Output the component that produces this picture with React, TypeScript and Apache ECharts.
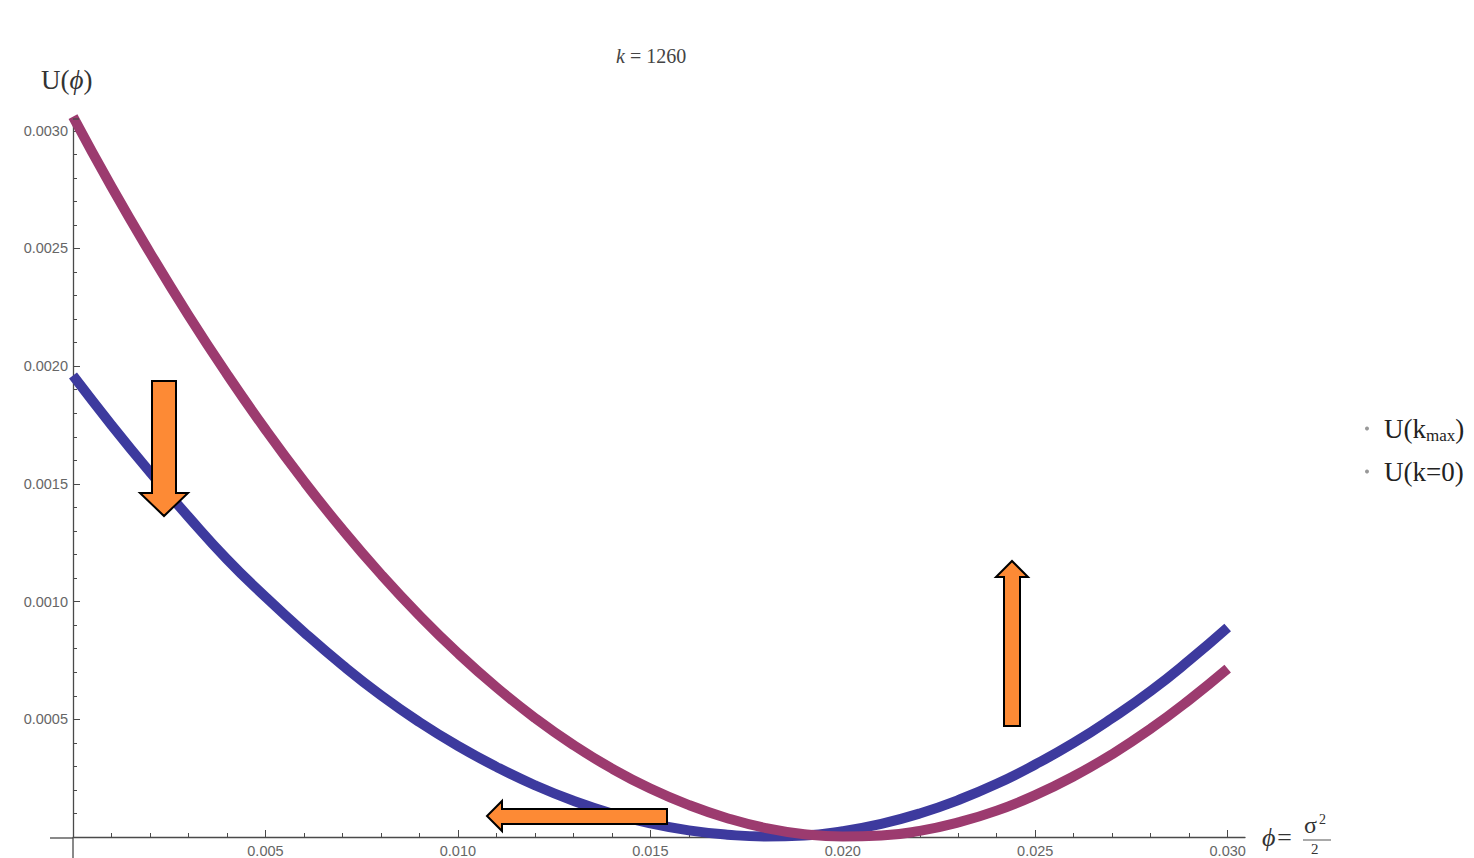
import React, { useEffect, useRef } from "react";
import * as echarts from "echarts";

// phi values (x)
const phi = [
  0.0, 0.001, 0.002, 0.003, 0.004, 0.005, 0.006, 0.007, 0.008, 0.009, 0.01,
  0.011, 0.012, 0.013, 0.014, 0.015, 0.016, 0.017, 0.018, 0.019, 0.02,
  0.021, 0.022, 0.023, 0.024, 0.025, 0.026, 0.027, 0.028, 0.029, 0.03,
];
// U(k_max) — blue curve
const uKmax = [
  0.00196, 0.00175, 0.00155, 0.00136, 0.00118, 0.00102, 0.00087, 0.00073,
  0.000602, 0.000488, 0.000387, 0.000298, 0.00022, 0.000154, 0.0001,
  0.000058, 0.000028, 0.00001, 0.000002, 0.000006, 0.000025, 0.000056,
  0.0001, 0.000157, 0.000226, 0.000308, 0.0004, 0.000505, 0.00062, 0.00075,
  0.00089,
];
// U(k=0) — purple curve
const uK0 = [
  0.00306, 0.002762, 0.002482, 0.002216, 0.001966, 0.001731, 0.001511,
  0.001306, 0.001116, 0.000941, 0.000781, 0.000636, 0.000506, 0.000391,
  0.000291, 0.000206, 0.000136, 0.00008, 0.000038, 0.000012, 0.000002,
  0.000006, 0.000026, 0.000062, 0.000112, 0.000178, 0.000258, 0.000352,
  0.00046, 0.000582, 0.000715,
];

const seriesNames = ["U(kmax)", "U(k=0)"];

const xMajorTicks = [0.005, 0.01, 0.015, 0.02, 0.025, 0.03];
const xMinorTicks = [
  0.001, 0.002, 0.003, 0.004, 0.006, 0.007, 0.008, 0.009, 0.011, 0.012,
  0.013, 0.014, 0.016, 0.017, 0.018, 0.019, 0.021, 0.022, 0.023, 0.024,
  0.026, 0.027, 0.028, 0.029,
];
const yMajorTicks = [0.0005, 0.001, 0.0015, 0.002, 0.0025, 0.003];
const yMinorTicks = [
  0.0001, 0.0002, 0.0003, 0.0004, 0.0006, 0.0007, 0.0008, 0.0009, 0.0011,
  0.0012, 0.0013, 0.0014, 0.0016, 0.0017, 0.0018, 0.0019, 0.0021, 0.0022,
  0.0023, 0.0024, 0.0026, 0.0027, 0.0028, 0.0029,
];

export default function App() {
  const ref = useRef<HTMLDivElement>(null);

  useEffect(() => {
    if (!ref.current) return;
    const chart = echarts.init(ref.current, undefined, { renderer: "svg" });

    const axisColor = "#4a4a4a";
    const labelStyle = {
      color: "#666",
      fontSize: 14.5,
      fontFamily: "Liberation Sans, Arial, sans-serif",
    };
    const serif = "Liberation Serif, Times New Roman, serif";
    const orange = "#fd8a35";

    const xMin = 0;
    const xMax = 0.03045;
    const yMin = 0;
    const yMax = 0.00305;

    const option: any = {
      animation: false,
      backgroundColor: "#ffffff",
      title: {
        text: "{i|k} = 1260",
        left: 611,
        top: 41,
        textStyle: {
          fontFamily: serif,
          fontSize: 20,
          fontWeight: "normal",
          color: "#444",
          rich: {
            i: { fontFamily: serif, fontSize: 20, fontStyle: "italic", color: "#444" },
          },
        },
      },
      legend: {
        orient: "vertical",
        left: 1360,
        top: 410,
        itemGap: 14,
        icon: "circle",
        itemWidth: 4,
        itemHeight: 4,
        data: seriesNames.map((n) => ({ name: n, itemStyle: { color: "#999" } })),
        formatter: (n: string) => (n === "U(kmax)" ? "U(k{s|max})" : n),
        textStyle: {
          fontFamily: serif,
          fontSize: 27,
          color: "#222",
          padding: [0, 0, 0, 10],
          rich: {
            s: { fontFamily: serif, fontSize: 17, color: "#222", padding: [14, 0, 0, 0] },
          },
        },
      },
      grid: { left: 73, right: 1474 - 1245, top: 119, bottom: 858 - 838, containLabel: false },
      xAxis: [
        {
          type: "value",
          min: xMin,
          max: xMax,
          axisLine: { show: true, onZero: false, lineStyle: { color: axisColor, width: 1.3 } },
          axisTick: { show: true, inside: true, length: 7, customValues: xMajorTicks, lineStyle: { color: axisColor } },
          axisLabel: {
            ...labelStyle,
            customValues: xMajorTicks,
            margin: 6,
            formatter: (v: number) => v.toFixed(3),
          },
          splitLine: { show: false },
        },
        {
          type: "value",
          position: "bottom",
          min: xMin,
          max: xMax,
          axisLine: { show: false },
          axisTick: { show: true, inside: true, length: 4, customValues: xMinorTicks, lineStyle: { color: axisColor } },
          axisLabel: { show: false },
          splitLine: { show: false },
        },
      ],
      yAxis: [
        {
          type: "value",
          min: yMin,
          max: yMax,
          axisLine: { show: true, onZero: false, lineStyle: { color: axisColor, width: 1.3 } },
          axisTick: { show: true, inside: true, length: 7, customValues: yMajorTicks, lineStyle: { color: axisColor } },
          axisLabel: {
            ...labelStyle,
            customValues: yMajorTicks,
            margin: 5,
            formatter: (v: number) => v.toFixed(4),
          },
          splitLine: { show: false },
        },
        {
          type: "value",
          position: "left",
          min: yMin,
          max: yMax,
          axisLine: { show: false },
          axisTick: { show: true, inside: true, length: 4, customValues: yMinorTicks, lineStyle: { color: axisColor } },
          axisLabel: { show: false },
          splitLine: { show: false },
        },
      ],
      series: [
        {
          name: seriesNames[0],
          type: "line",
          data: phi.map((x, i) => [x, uKmax[i]]),
          smooth: 0.5,
          showSymbol: false,
          clip: false,
          lineStyle: { color: "#3d3a9e", width: 10 },
          itemStyle: { color: "#3d3a9e" },
          z: 3,
        },
        {
          name: seriesNames[1],
          type: "line",
          data: phi.map((x, i) => [x, uK0[i]]),
          smooth: 0.5,
          showSymbol: false,
          clip: false,
          lineStyle: { color: "#9c3b6f", width: 10 },
          itemStyle: { color: "#9c3b6f" },
          z: 4,
        },
      ],
      graphic: [
        // axis extensions past origin
        { type: "line", shape: { x1: 50, y1: 838, x2: 73, y2: 838 }, style: { stroke: axisColor, lineWidth: 1.3 }, z: 5 },
        { type: "line", shape: { x1: 73, y1: 838, x2: 73, y2: 858 }, style: { stroke: axisColor, lineWidth: 1.3 }, z: 5 },
        { type: "line", shape: { x1: 73, y1: 119, x2: 79, y2: 119 }, style: { stroke: axisColor, lineWidth: 1.3 }, z: 5 },
        // y axis name U(ϕ)
        {
          type: "text",
          left: 41,
          top: 66,
          style: {
            text: "U({i|ϕ})",
            fontFamily: serif,
            fontSize: 27,
            fill: "#333",
            rich: { i: { fontFamily: serif, fontSize: 27, fontStyle: "italic", fill: "#333", color: "#333" } },
          },
        },
        // x axis name ϕ = σ²/2
        {
          type: "text",
          left: 1262,
          top: 824,
          style: { text: "ϕ=", fontFamily: serif, fontSize: 26, fill: "#333", fontStyle: "italic" },
        },
        {
          type: "text",
          left: 1304,
          top: 813,
          style: { text: "σ", fontFamily: serif, fontSize: 24, fill: "#333" },
        },
        {
          type: "text",
          left: 1319,
          top: 812,
          style: { text: "2", fontFamily: serif, fontSize: 14, fill: "#333" },
        },
        { type: "line", shape: { x1: 1303, y1: 840, x2: 1331, y2: 840 }, style: { stroke: "#555", lineWidth: 1 } },
        {
          type: "text",
          left: 1311,
          top: 841,
          style: { text: "2", fontFamily: serif, fontSize: 15, fill: "#333" },
        },
        // orange arrows
        {
          type: "polygon",
          z: 100,
          shape: { points: [[152, 381], [176, 381], [176, 493], [188, 493], [164, 516], [140, 493], [152, 493]] },
          style: { fill: orange, stroke: "#000", lineWidth: 2 },
        },
        {
          type: "polygon",
          z: 100,
          shape: { points: [[1004, 726], [1020, 726], [1020, 577], [1028, 577], [1012, 561], [996, 577], [1004, 577]] },
          style: { fill: orange, stroke: "#000", lineWidth: 2 },
        },
        {
          type: "polygon",
          z: 100,
          shape: { points: [[667, 809], [667, 824], [502, 824], [502, 831], [487, 816], [502, 801], [502, 809]] },
          style: { fill: orange, stroke: "#000", lineWidth: 2 },
        },
      ],
    };

    chart.setOption(option);
    return () => chart.dispose();
  }, []);

  return (
    <div
      ref={ref}
      style={{ position: "fixed", left: 0, top: 0, width: 1474, height: 858, background: "#fff" }}
    />
  );
}
